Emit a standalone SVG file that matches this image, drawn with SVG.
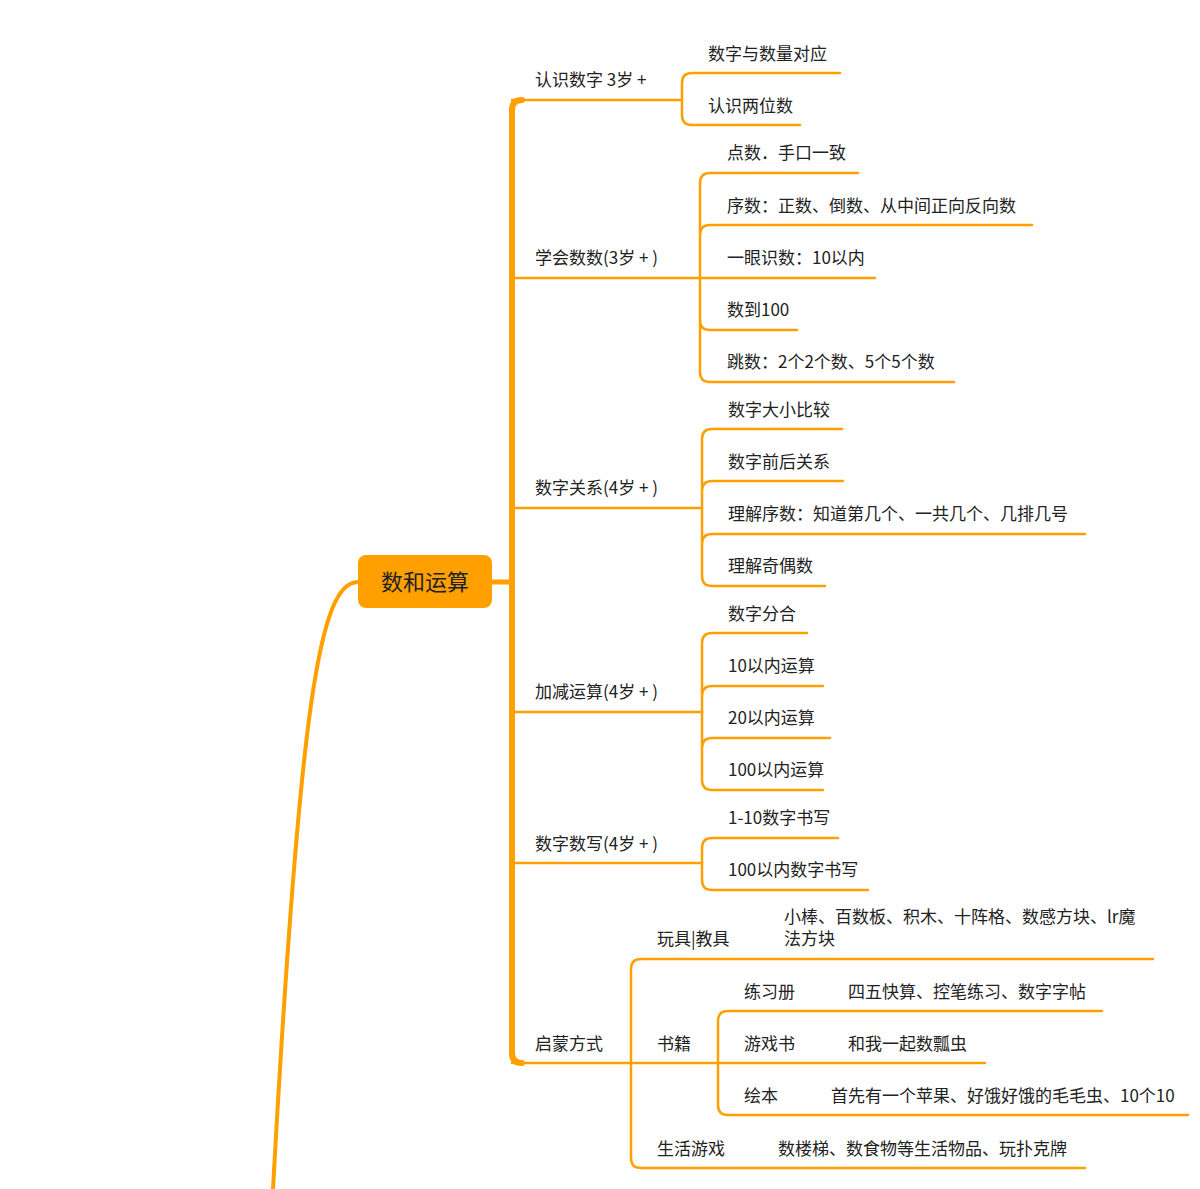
<svg xmlns="http://www.w3.org/2000/svg" width="1200" height="1189" viewBox="0 0 1200 1189">
<style>
.l{fill:none;stroke:#FFA000;stroke-width:2.5;stroke-linecap:round}
.t{font-family:"Noto Sans CJK SC","Liberation Sans",sans-serif;font-size:17px;fill:#222}
</style>
<rect width="1200" height="1189" fill="#fff"/>
<g id="connectors">
<path class="l" d="M358,582 C320,582 300,700 273,1189" style="stroke-width:4"/>
<path class="l" d="M492,582 H512" style="stroke-width:5"/>
<path class="l" d="M512,110 Q512,100 522,100 M512,1053 Q512,1063 522,1063" style="stroke-width:6"/>
<path class="l" d="M512,110 V1053" style="stroke-width:6"/>
<path class="l" d="M512,100 H682 M512,278 H875 M512,508 H702 M512,712 H702 M512,863 H702 M512,1063 H985"/>
<path class="l" d="M682,100 V83 Q682,73 692,73 H840 M682,100 V115 Q682,125 692,125 H800"/>
<path class="l" d="M700,278 V183 Q700,173 710,173 H858 M700,235 Q700,225 710,225 H1032 M700,278 V372 Q700,382 710,382 H954 M700,320 Q700,330 710,330 H797"/>
<path class="l" d="M702,439 Q702,429 712,429 H842 M702,439 V576 Q702,586 712,586 H825 M702,491 Q702,481 712,481 H843 M702,544 Q702,534 712,534 H1085"/>
<path class="l" d="M702,643 Q702,633 712,633 H807 M702,643 V780 Q702,790 712,790 H823 M702,696 Q702,686 712,686 H823 M702,748 Q702,738 712,738 H830"/>
<path class="l" d="M702,848 Q702,838 712,838 H838 M702,848 V880 Q702,890 712,890 H868"/>
<path class="l" d="M631,969 Q631,959 641,959 H1153 M631,969 V1158 Q631,1168 641,1168 H1085"/>
<path class="l" d="M718,1021 Q718,1011 728,1011 H1102 M718,1021 V1105 Q718,1115 728,1115 H1188"/>
</g>
<g id="root"><rect x="358" y="555" width="134" height="53" rx="8" fill="#FFA000"/><text x="425" y="590" text-anchor="middle" style="font-family:'Noto Sans CJK SC',sans-serif;font-size:22px;fill:#222">数和运算</text></g>
<g id="n1"><text class="t" x="535" y="86">认识数字 3岁 +</text></g>
<g id="n1a"><text class="t" x="708" y="60">数字与数量对应</text></g>
<g id="n1b"><text class="t" x="708" y="112">认识两位数</text></g>
<g id="n2"><text class="t" x="535" y="264">学会数数(3岁 + )</text></g>
<g id="n2a"><text class="t" x="727" y="159">点数．手口一致</text></g>
<g id="n2b"><text class="t" x="727" y="212">序数：正数、倒数、从中间正向反向数</text></g>
<g id="n2c"><text class="t" x="727" y="264">一眼识数：10以内</text></g>
<g id="n2d"><text class="t" x="727" y="316">数到100</text></g>
<g id="n2e"><text class="t" x="727" y="368">跳数：2个2个数、5个5个数</text></g>
<g id="n3"><text class="t" x="535" y="494">数字关系(4岁 + )</text></g>
<g id="n3a"><text class="t" x="728" y="416">数字大小比较</text></g>
<g id="n3b"><text class="t" x="728" y="468">数字前后关系</text></g>
<g id="n3c"><text class="t" x="728" y="520">理解序数：知道第几个、一共几个、几排几号</text></g>
<g id="n3d"><text class="t" x="728" y="572">理解奇偶数</text></g>
<g id="n4"><text class="t" x="535" y="698">加减运算(4岁 + )</text></g>
<g id="n4a"><text class="t" x="728" y="620">数字分合</text></g>
<g id="n4b"><text class="t" x="728" y="672">10以内运算</text></g>
<g id="n4c"><text class="t" x="728" y="724">20以内运算</text></g>
<g id="n4d"><text class="t" x="728" y="776">100以内运算</text></g>
<g id="n5"><text class="t" x="535" y="850">数字数写(4岁 + )</text></g>
<g id="n5a"><text class="t" x="728" y="824">1-10数字书写</text></g>
<g id="n5b"><text class="t" x="728" y="876">100以内数字书写</text></g>
<g id="n6"><text class="t" x="535" y="1050">启蒙方式</text></g>
<g id="n6a"><text class="t" x="657" y="945">玩具|教具</text></g>
<g id="n6a1"><text class="t" x="784" y="923">小棒、百数板、积木、十阵格、数感方块、lr魔</text><text class="t" x="784" y="945">法方块</text></g>
<g id="n6b"><text class="t" x="657" y="1050">书籍</text></g>
<g id="n6b1"><text class="t" x="744" y="998">练习册</text><text class="t" x="848" y="998">四五快算、控笔练习、数字字帖</text></g>
<g id="n6b2"><text class="t" x="744" y="1050">游戏书</text><text class="t" x="848" y="1050">和我一起数瓢虫</text></g>
<g id="n6b3"><text class="t" x="744" y="1102">绘本</text><text class="t" x="831" y="1102">首先有一个苹果、好饿好饿的毛毛虫、10个10</text></g>
<g id="n6c"><text class="t" x="657" y="1155">生活游戏</text><text class="t" x="778" y="1155">数楼梯、数食物等生活物品、玩扑克牌</text></g>
</svg>
